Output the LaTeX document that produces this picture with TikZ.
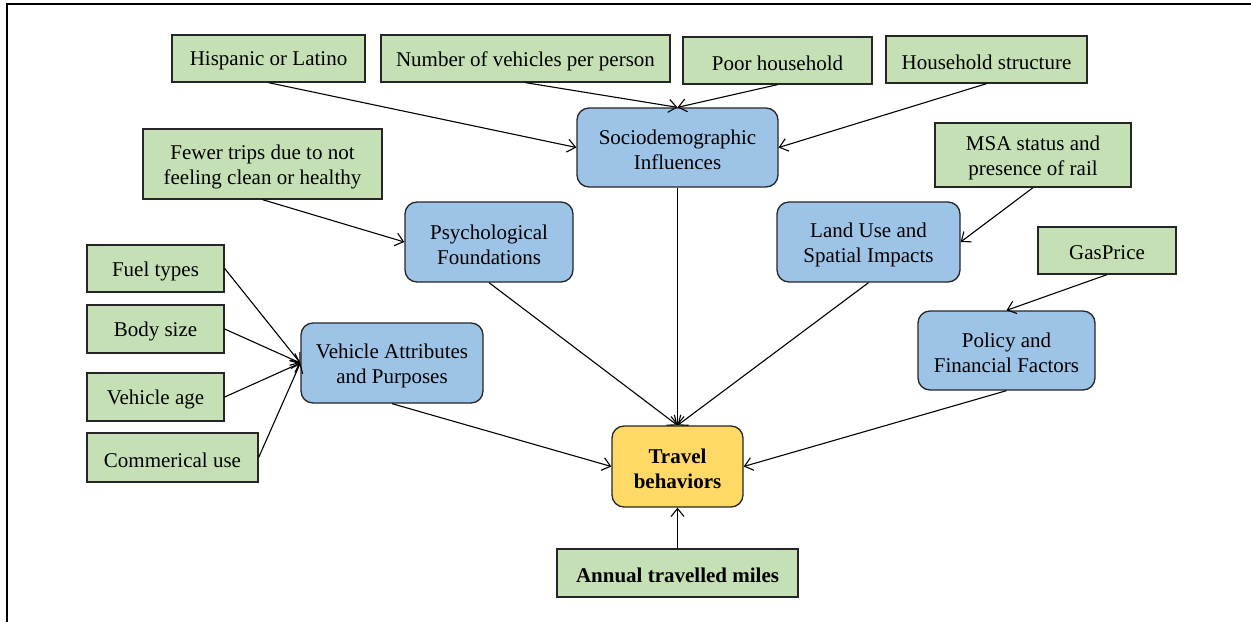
\documentclass[tikz,border=0pt]{standalone}
\usepackage{fontspec}
\setmainfont{Liberation Serif}
\usetikzlibrary{arrows.meta}
\definecolor{boxgreen}{HTML}{C5E0B4}
\definecolor{boxblue}{HTML}{9DC3E6}
\definecolor{boxyellow}{HTML}{FFD966}
\definecolor{edgegray}{HTML}{262626}
\tikzset{
  base/.style={draw=edgegray, line width=1.3pt, inner sep=0pt},
  gbox/.style={base, fill=boxgreen},
  bbox/.style={base, fill=boxblue, rounded corners=12pt},
  ybox/.style={base, fill=boxyellow, rounded corners=12pt},
  txt/.style={inner sep=0pt, align=center, text=black, font=\fontsize{21}{25}\selectfont},
  btxt/.style={txt, font=\fontsize{21}{25}\selectfont\bfseries},
  conn/.style={line width=1.1pt, -{Straight Barb[length=8pt,width=13pt,line width=1.1pt]}},
  frameline/.style={line width=2.2pt}
}
% \mybox{box style}{text style}{name}{x}{y}{w}{h}{text}
\newcommand\mybox[8]{%
  \node[#1, minimum width=#6pt, minimum height=#7pt] (#3) at (#4,#5) {};
  \node[#2, yshift=-2.5pt] (#3-t) at (#3.center) {#8};
}
\begin{document}
\begin{tikzpicture}[x=1pt,y=-1pt]
\useasboundingbox (0,0) rectangle (1251,622);
\draw[frameline] (7,622) -- (7,4) -- (1251,4);

\mybox{gbox}{txt}{hisp}{268.5}{58.5}{193}{47}{Hispanic or Latino}
\mybox{gbox}{txt}{numv}{525.5}{58.5}{289}{47}{Number of vehicles per person}
\mybox{gbox}{txt}{poor}{777.5}{60.5}{189}{47}{Poor household}
\mybox{gbox}{txt}{hstr}{986.5}{59.5}{201}{47}{Household structure}
\mybox{bbox}{txt}{socio}{677.5}{147.5}{201}{79}{Sociodemographic\\Influences}
\mybox{gbox}{txt}{fewer}{262.5}{164}{239}{70}{Fewer trips due to not\\feeling clean or healthy}
\mybox{gbox}{txt}{msa}{1033}{155}{196}{64}{MSA status and\\presence of rail}
\mybox{bbox}{txt}{psych}{489}{242}{168}{80}{Psychological\\Foundations}
\mybox{bbox}{txt}{land}{868.5}{242}{183}{80}{Land Use and\\Spatial Impacts}
\mybox{gbox}{txt}{gas}{1107}{250.5}{138}{47}{GasPrice}
\mybox{bbox}{txt}{policy}{1006.5}{350.5}{177}{79}{Policy and\\Financial Factors}
\mybox{bbox}{txt}{veh}{392}{363}{182}{80}{Vehicle Attributes\\and Purposes}
\mybox{gbox}{txt}{fuel}{155.5}{268.5}{137}{47}{Fuel types}
\mybox{gbox}{txt}{body}{155.5}{329}{137}{48}{Body size}
\mybox{gbox}{txt}{age}{155.5}{397}{137}{48}{Vehicle age}
\mybox{gbox}{txt}{comm}{172.5}{457.5}{171}{49}{Commerical use}
\mybox{ybox}{btxt}{travel}{677.5}{466.5}{131}{81}{Travel\\behaviors}
\mybox{gbox}{btxt}{annual}{677.5}{573}{241}{48}{Annual travelled miles}

\draw[conn] (hisp.south) -- (socio.west);
\draw[conn] (numv.south) -- (socio.north);
\draw[conn] (poor.south) -- (socio.north);
\draw[conn] (hstr.south) -- (socio.east);
\draw[conn] (fewer.south) -- (psych.west);
\draw[conn] (msa.south) -- (land.east);
\draw[conn] (gas.south) -- (policy.north);
\draw[conn] (socio.south) -- (travel.north);
\draw[conn] (psych.south) -- (travel.north);
\draw[conn] (land.south) -- (travel.north);
\draw[conn] (policy.south) -- (travel.east);
\draw[conn] (veh.south) -- (travel.west);
\draw[conn] (fuel.east) -- (veh.west);
\draw[conn] (body.east) -- (veh.west);
\draw[conn] (age.east) -- (veh.west);
\draw[conn] (comm.east) -- (veh.west);
\draw[conn] (annual.north) -- (travel.south);
\end{tikzpicture}
\end{document}
